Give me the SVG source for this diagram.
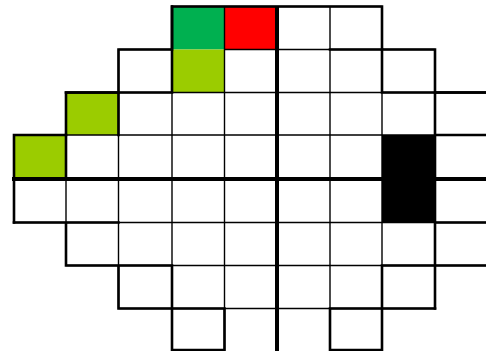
<svg xmlns="http://www.w3.org/2000/svg" width="486" height="351" viewBox="0 0 486 351">
<style>
.thin{stroke:#000;stroke-width:1.4;fill:none}
.thick{stroke:#000;stroke-width:2.6;fill:none;stroke-linecap:square}
.axis{stroke:#000;stroke-width:4;fill:none}
</style>
<rect width="486" height="351" fill="#fff"/>
<g id="fills">
<rect id="green" x="172" y="6.5" width="52.5" height="43" fill="#00b050"/>
<rect id="red" x="224.5" y="6.5" width="52.5" height="43" fill="#ff0000"/>
<rect id="yg1" x="172" y="49.5" width="52.5" height="43" fill="#9bcc00"/>
<rect id="yg2" x="66" y="92.5" width="52.5" height="42.5" fill="#9bcc00"/>
<rect id="yg3" x="14" y="135" width="52" height="44" fill="#9bcc00"/>
<rect id="black" x="382" y="135" width="53" height="87.5" fill="#000"/>
</g>
<g id="grid">
<path class="thin" d="M172,6.5H382 M118.5,49.5H172 M224.5,49.5H435 M66,92.5H488 M14,135H488 M14,222.5H488 M66,265.5H488 M118.5,308.5H435 M172,350H224.5 M330,350H382"/>
<path class="thin" d="M14,135V222.5 M66,92.5V265.5 M118.5,49.5V308.5 M172,6.5V350 M224.5,6.5V350 M330,6.5V350 M382,6.5V350 M435,49.5V308.5"/>
</g>
<g id="outline">
<path class="thick" d="M14,222.5V135H66V92.5H118.5V49.5H172V6.5H382V49.5H435V92.5H488"/>
<path class="thick" d="M66,92.5H172 M172,6.5V92.5 M118.5,92.5V135 M66,135V179 M330,49.5H382V92.5H488 M435,92.5V308.5 M435,135H488 M435,222.5H488"/>
<path class="thick" d="M14,222.5H118.5 M66,222.5V265.5H172 M118.5,265.5V308.5H224.5V350H172V265.5"/>
<path class="thick" d="M488,265.5H382V350H330V308.5H435"/>
</g>
<g id="axes">
<path class="axis" d="M12,179H486"/>
<path class="axis" d="M277,6V351"/>
</g>
</svg>
